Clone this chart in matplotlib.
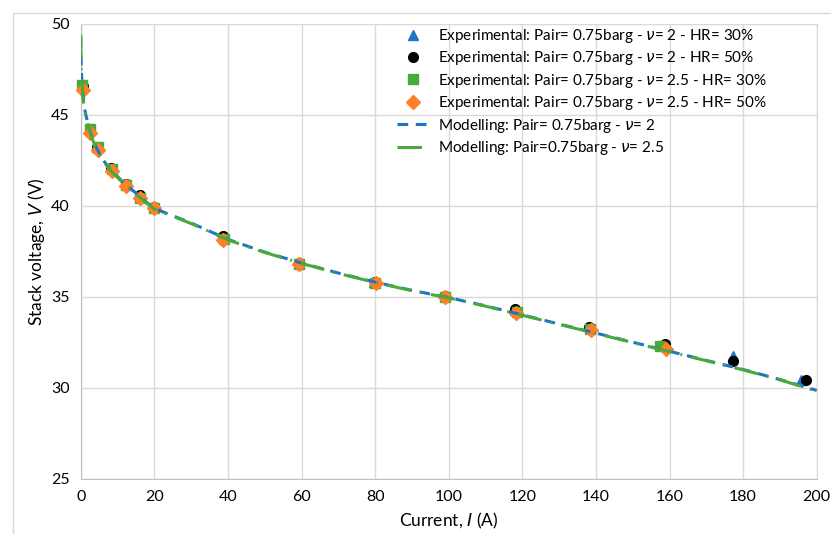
import matplotlib
matplotlib.use("Agg")
import matplotlib.pyplot as plt
from matplotlib.patches import Rectangle

I_v2_hr30 = [0.5, 2.5, 4.5, 8.4, 12.3, 16.1, 20.0, 38.8, 59.3, 79.8, 99.0, 118.0, 138.3, 158.4, 177.3, 195.8]
V_v2_hr30 = [46.6, 44.2, 43.2, 42.05, 41.2, 40.55, 39.95, 38.3, 36.85, 35.8, 35.05, 34.25, 33.3, 32.35, 31.72, 30.45]

I_v2_hr50 = [0.5, 2.5, 4.5, 8.3, 12.2, 16.0, 20.0, 38.6, 59.4, 80.0, 99.0, 118.0, 138.2, 158.8, 177.3, 197.2]
V_v2_hr50 = [46.6, 44.2, 43.2, 42.05, 41.2, 40.6, 39.95, 38.33, 36.85, 35.8, 35.05, 34.3, 33.33, 32.4, 31.47, 30.42]

I_v25_hr30 = [0.4, 2.6, 4.6, 8.4, 12.3, 16.2, 20.0, 39.0, 59.2, 80.0, 99.0, 118.5, 138.5, 157.4]
V_v25_hr30 = [46.65, 44.2, 43.2, 42.0, 41.15, 40.45, 39.85, 38.15, 36.8, 35.75, 35.0, 34.15, 33.25, 32.3]

I_v25_hr50 = [0.5, 2.6, 4.6, 8.4, 12.3, 16.1, 20.0, 38.8, 59.4, 80.2, 99.0, 118.2, 138.6, 159.0]
V_v25_hr50 = [46.36, 44.0, 43.06, 41.92, 41.08, 40.45, 39.85, 38.12, 36.78, 35.74, 34.98, 34.12, 33.17, 32.1]

# modelling curves
I_model = [0, 0.05, 0.1, 0.2, 0.35, 0.5, 0.75, 1, 1.5, 2, 3, 4, 5, 6.5, 8, 10, 12.5, 15, 17.5, 20,
           25, 30, 40, 50, 60, 70, 80, 90, 100, 110, 120, 130, 140, 150, 160, 170, 180, 190, 200]
V_model_v2 = [49.3, 48.6, 48.0, 47.3, 46.8, 46.4, 45.8, 45.4, 44.9, 44.5, 43.8, 43.3, 42.9, 42.4, 42.0,
              41.6, 41.1, 40.7, 40.25, 39.85, 39.45, 39.05, 38.15, 37.45, 36.85, 36.3, 35.8, 35.35,
              34.95, 34.5, 34.0, 33.5, 33.0, 32.5, 32.0, 31.5, 31.0, 30.45, 29.85]
V_model_v25 = [49.4, 48.5, 47.9, 47.2, 46.7, 46.3, 45.7, 45.3, 44.8, 44.4, 43.75, 43.25, 42.85, 42.35, 41.95,
               41.55, 41.05, 40.65, 40.2, 39.82, 39.42, 39.02, 38.12, 37.43, 36.83, 36.28, 35.78, 35.33,
               34.93, 34.48, 33.98, 33.48, 32.98, 32.48, 31.98, 31.48, 30.98, 30.43, 29.82]

plt.rcParams["font.family"] = ["Lato", "DejaVu Sans"]
plt.rcParams["mathtext.fontset"] = "dejavusans"

blue = "#1F74C8"
green = "#47AA3A"
orange = "#FF7F2A"
grid_c = "#D9D9D9"

fig = plt.figure(figsize=(8.31, 5.34), dpi=100)
ax = fig.add_axes([80.7 / 831, 1 - 478.7 / 534, (816.7 - 80.7) / 831, (478.7 - 23.7) / 534])

# outer chart border
fig.patches.append(Rectangle((13 / 831, -0.1), 1.0, 1 - 13 / 534 + 0.1, transform=fig.transFigure,
                             fill=False, edgecolor=grid_c, linewidth=1))

ms = 7
ax.plot(I_v2_hr30, V_v2_hr30, "^", color=blue, ms=ms, clip_on=False, zorder=3,
        label=r"Experimental: Pair= 0.75barg - $\nu$= 2 - HR= 30%")
ax.plot(I_v2_hr50, V_v2_hr50, "o", color="black", ms=ms, clip_on=False, zorder=3,
        label=r"Experimental: Pair= 0.75barg - $\nu$= 2 - HR= 50%")
ax.plot(I_v25_hr30, V_v25_hr30, "s", color=green, ms=ms, clip_on=False, zorder=3,
        label=r"Experimental: Pair= 0.75barg - $\nu$= 2.5 - HR= 30%")
ax.plot(I_v25_hr50, V_v25_hr50, "D", color=orange, ms=ms, clip_on=False, zorder=3,
        label=r"Experimental: Pair= 0.75barg - $\nu$= 2.5 - HR= 50%")
ax.plot(I_model, V_model_v2, color=blue, lw=2.2, dashes=(3.5, 2.5), zorder=4,
        label=r"Modelling: Pair= 0.75barg - $\nu$= 2")
ax.plot(I_model, V_model_v25, color=green, lw=2.2, dashes=(8, 3, 0.6, 3), zorder=4,
        label=r"Modelling: Pair=0.75barg - $\nu$= 2.5")

ax.set_xlim(0, 200)
ax.set_ylim(25, 50)
ax.set_xticks(range(0, 201, 20))
ax.set_yticks(range(25, 51, 5))
ax.tick_params(length=0, labelsize=11.5, pad=8)
ax.grid(color=grid_c, linewidth=1)
ax.set_axisbelow(True)
for side in ["top", "right"]:
    ax.spines[side].set_color(grid_c)
for side in ["left", "bottom"]:
    ax.spines[side].set_color("#BFBFBF")

ax.set_xlabel("Current, $I$ (A)", fontsize=12.5, labelpad=5)
ax.set_ylabel("Stack voltage, $V$ (V)", fontsize=12.5, labelpad=3)

ax.legend(loc="upper left", bbox_to_anchor=(397 / 831, 1 - 27 / 534), bbox_transform=fig.transFigure,
          frameon=False, fontsize=10.95, numpoints=1, handlelength=2.1, handletextpad=0.62,
          labelspacing=0.29, borderpad=0, borderaxespad=0)

fig.savefig("out.png", dpi=100)
